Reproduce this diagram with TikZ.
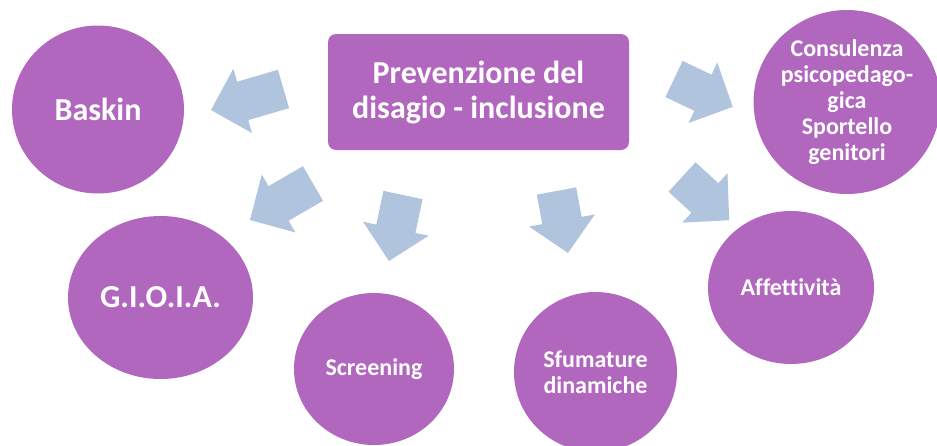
\documentclass[tikz,border=0pt]{standalone}
\usepackage{fontspec}
\setmainfont{Carlito}[Ligatures=NoCommon]
\usetikzlibrary{shapes.geometric}
\definecolor{purp}{RGB}{177,103,190}
\definecolor{arrowc}{RGB}{176,196,222}
\tikzset{
  bubble/.style={ellipse, fill=purp, text=white, inner sep=0pt, align=center, font=\bfseries},
  bigtxt/.style={font=\fontsize{32}{35}\selectfont\bfseries},
  smalltxt/.style={font=\fontsize{24}{26}\selectfont\bfseries},
  pics/barrow/.style={code={
    \fill[arrowc] (0,-20) -- ({#1-33},-20) -- ({#1-33},-33.5) -- (#1,0)
      -- ({#1-33},33.5) -- ({#1-33},20) -- (0,20) -- cycle;}}
}
\begin{document}
\begin{tikzpicture}[x=1pt,y=-1pt]
\useasboundingbox (0,0) rectangle (937,445);
\clip (0,0) rectangle (937,445);
% central box
\node[fill=purp, rounded corners=8pt, minimum width=301pt, minimum height=116pt, inner sep=0pt,
      text=white, align=center, bigtxt] (center) at (478.5,92) {Prevenzione del\\disagio - inclusione};
% bubbles
\node[bubble, bigtxt, minimum width=172pt, minimum height=168pt] (baskin) at (98,109.5) {Baskin};
\node[bubble, bigtxt, minimum width=185pt, minimum height=163pt] (gioia) at (160.5,297.5) {G.I.O.I.A.};
\node[bubble, smalltxt, minimum width=160pt, minimum height=152pt] (screening) at (374,369) {Screening};
\node[bubble, smalltxt, minimum width=163pt, minimum height=160pt] (sfumature) at (595.5,372) {Sfumature\\dinamiche};
\node[bubble, smalltxt, minimum width=166pt, minimum height=153pt] (affett) at (791,287.5) {Affettività};
\node[bubble, smalltxt, minimum width=184pt, minimum height=184pt] (consul) at (847,102) {Consulenza\\psicopedago-\\gica\\Sportello\\genitori};
% block arrows
\pic[rotate=196.2] at (283.5,89) {barrow=75.5};
\pic[rotate=210.1] at (313,183.5) {barrow=72.8};
\pic[rotate=258] at (403,195) {barrow=67.5};
\pic[rotate=-79.5] at (556.5,191) {barrow=63};
\pic[rotate=-25.4] at (674,79) {barrow=65};
\pic[rotate=-42.5] at (682,177) {barrow=64};
\end{tikzpicture}
\end{document}
